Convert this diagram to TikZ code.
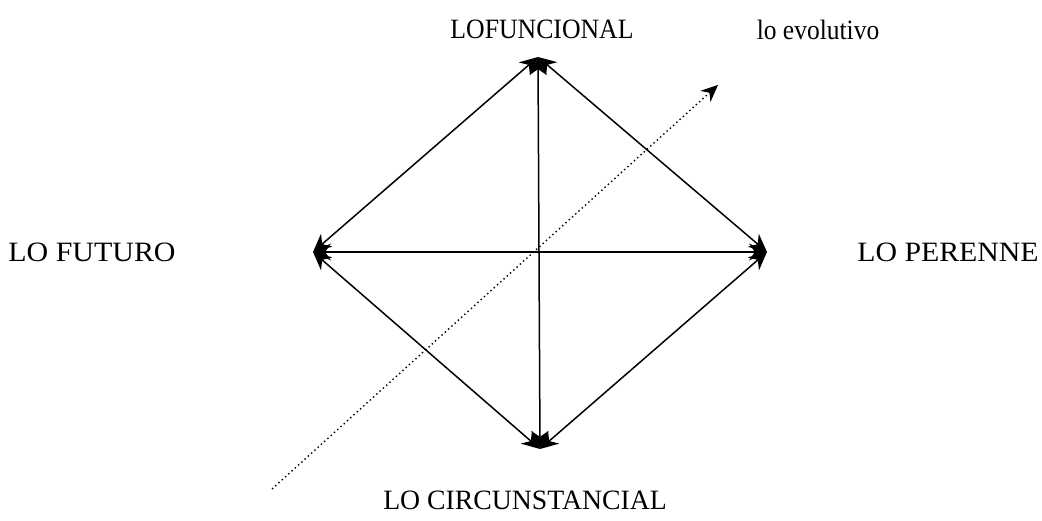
\documentclass[tikz,border=0pt]{standalone}
\usepackage{fontspec}
\setmainfont{Liberation Serif}
\usetikzlibrary{arrows.meta}
\begin{document}
\begin{tikzpicture}[x=1pt,y=-1pt,
  lbl/.style={inner sep=0pt, font=\fontsize{28}{30}\selectfont},
  edge/.style={line width=1.5pt, {Stealth[length=18pt,width=17pt]}-{Stealth[length=18pt,width=17pt]}},
  evo/.style={line width=1.4pt, dash pattern=on 1.4pt off 3pt, -{Stealth[length=17pt,width=15pt]}}]
\useasboundingbox (0,0) rectangle (1042,521);
\coordinate (T) at (538,57);
\coordinate (L) at (313,252);
\coordinate (R) at (767,252);
\coordinate (B) at (540,449);
\coordinate (E0) at (272,489);
\coordinate (E1) at (718,85);
\node[lbl] (fun) at (542,29) {\scalebox{0.92}[1]{LOFUNCIONAL}};
\node[lbl] (evot) at (818,30) {\scalebox{0.91}[1]{lo evolutivo}};
\node[lbl] (fut) at (92,252) {\scalebox{1.07}[1]{LO FUTURO}};
\node[lbl] (per) at (948,252) {\scalebox{1.065}[1]{LO PERENNE}};
\node[lbl] (cir) at (525,500) {\scalebox{0.99}[1]{LO CIRCUNSTANCIAL}};
\draw[edge] (T) -- (L);
\draw[edge] (T) -- (R);
\draw[edge] (T) -- (B);
\draw[edge] (L) -- (R);
\draw[edge] (L) -- (B);
\draw[edge] (R) -- (B);
\draw[evo] (E0) -- (E1);
\end{tikzpicture}
\end{document}
